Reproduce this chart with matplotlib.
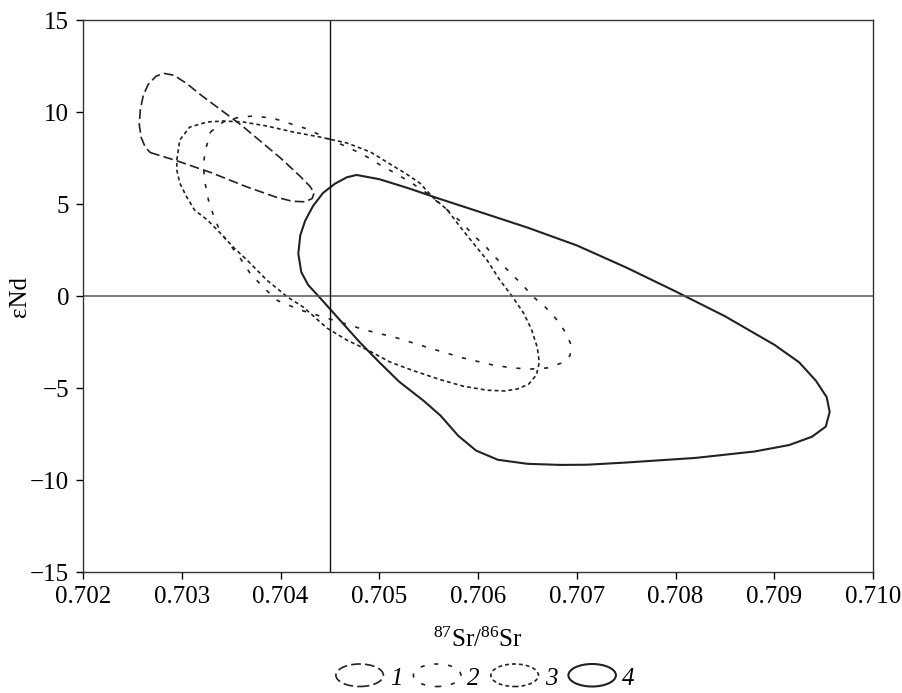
import matplotlib
matplotlib.use('Agg')
from matplotlib import pyplot as plt
import matplotlib.patches as mpatches
from matplotlib.legend_handler import HandlerPatch

plt.rcParams['font.family'] = ['Liberation Serif', 'DejaVu Serif']
plt.rcParams['mathtext.fontset'] = 'custom'
plt.rcParams['mathtext.rm'] = 'Liberation Serif'
plt.rcParams['mathtext.it'] = 'Liberation Serif:italic'
plt.rcParams['lines.scale_dashes'] = False

# field outlines (87Sr/86Sr, eNd)
x1 = [0.70268, 0.70295, 0.70330, 0.70365, 0.70395, 0.70412, 0.70425, 0.70432,
      0.70434, 0.70430, 0.70420, 0.70400, 0.70380, 0.70360, 0.70340, 0.70320,
      0.70305, 0.70292, 0.70282, 0.70274, 0.70266, 0.70261, 0.70258, 0.70257,
      0.70259, 0.70263]
y1 = [7.80, 7.35, 6.70, 5.95, 5.38, 5.15, 5.12, 5.30,
      5.60, 5.95, 6.50, 7.50, 8.40, 9.30, 10.10, 10.90,
      11.55, 12.00, 12.10, 11.95, 11.50, 10.90, 10.10, 9.30,
      8.60, 8.10]

x2 = [0.70329, 0.70342, 0.70358, 0.70372, 0.70392, 0.70408, 0.70427, 0.70440,
      0.70470, 0.70488, 0.70501, 0.70516, 0.70531, 0.70548, 0.70569, 0.70584,
      0.70595, 0.70609, 0.70620, 0.70632, 0.70645, 0.70656, 0.70668, 0.70680,
      0.70689, 0.70695, 0.70693, 0.70684, 0.70670, 0.70653, 0.70635, 0.70615,
      0.70585, 0.70551, 0.70518, 0.70486, 0.70453, 0.70420, 0.70397, 0.70382,
      0.70369, 0.70359, 0.70339, 0.70332, 0.70327, 0.70323, 0.70322, 0.70324]
y2 = [8.91, 9.46, 9.72, 9.78, 9.67, 9.40, 9.08, 8.75,
      8.04, 7.55, 7.12, 6.68, 6.20, 5.60, 4.67, 3.97,
      3.32, 2.61, 1.96, 1.30, 0.60, -0.05, -0.60, -1.30,
      -2.01, -2.75, -3.25, -3.65, -3.91, -3.97, -3.91, -3.75,
      -3.37, -2.83, -2.28, -1.85, -1.30, -0.76, -0.25, 0.50,
      1.25, 2.07, 3.48, 4.40, 5.22, 6.30, 7.20, 7.93]

x3 = [0.70295, 0.70298, 0.70308, 0.70326, 0.70342, 0.70362, 0.70386, 0.70413,
      0.70440, 0.70467, 0.70491, 0.70510, 0.70527, 0.70541, 0.70554, 0.70569,
      0.70582, 0.70595, 0.70609, 0.70622, 0.70635, 0.70646, 0.70654, 0.70660,
      0.70662, 0.70659, 0.70651, 0.70640, 0.70627, 0.70609, 0.70585, 0.70562,
      0.70534, 0.70511, 0.70488, 0.70467, 0.70447, 0.70423, 0.70407, 0.70386,
      0.70366, 0.70352, 0.70339, 0.70326, 0.70313, 0.70305, 0.70298, 0.70295]
y3 = [7.39, 8.48, 9.18, 9.46, 9.51, 9.46, 9.24, 8.91,
      8.64, 8.32, 7.83, 7.20, 6.65, 6.14, 5.38, 4.67,
      3.75, 2.88, 1.96, 0.87, -0.05, -0.92, -1.80, -2.80,
      -3.60, -4.30, -4.80, -5.05, -5.16, -5.12, -4.90, -4.55,
      -4.05, -3.59, -2.93, -2.39, -1.74, -0.60, -0.05, 0.87,
      1.96, 2.66, 3.42, 4.13, 4.67, 5.38, 6.14, 6.85]

x4 = [0.70683, 0.70650, 0.70620, 0.70598, 0.70580, 0.70562, 0.70545, 0.70520,
      0.70500, 0.70480, 0.70460, 0.70440, 0.70428, 0.70421, 0.70418, 0.70420,
      0.70425, 0.70433, 0.70443, 0.70455, 0.70467, 0.70477, 0.70500, 0.70530,
      0.70560, 0.70600, 0.70650, 0.70700, 0.70750, 0.70800, 0.70850, 0.70900,
      0.70925, 0.70942, 0.70953, 0.70956, 0.70952, 0.70938, 0.70915, 0.70880,
      0.70820, 0.70750, 0.70710]
y4 = [-9.18, -9.12, -8.90, -8.40, -7.60, -6.50, -5.70, -4.65,
      -3.60, -2.50, -1.30, -0.10, 0.60, 1.30, 2.30, 3.30,
      4.10, 4.90, 5.60, 6.10, 6.45, 6.58, 6.35, 5.85,
      5.30, 4.60, 3.72, 2.75, 1.55, 0.25, -1.10, -2.65,
      -3.60, -4.60, -5.50, -6.30, -7.10, -7.65, -8.10, -8.45,
      -8.80, -9.05, -9.17]

labels = ['1', '2', '3', '4']
xticks = [0.702, 0.703, 0.704, 0.705, 0.706, 0.707, 0.708, 0.709, 0.710]
yticks = [-15, -10, -5, 0, 5, 10, 15]

col = '#222222'
styles = [(0, (7.0, 3.0)), (0, (3.0, 7.0)), (0, (2.8, 2.2)), '-']
widths = [1.2, 1.2, 1.2, 1.5]


class HandlerEllipse(HandlerPatch):
    def create_artists(self, legend, orig_handle, xdescent, ydescent,
                       width, height, fontsize, trans):
        c = (0.5 * width - 0.5 * xdescent, 0.5 * height - 0.5 * ydescent)
        p = mpatches.Ellipse(xy=c, width=width + xdescent, height=height + ydescent)
        self.update_prop(p, orig_handle, legend)
        p.set_transform(trans)
        return [p]


fig = plt.figure(figsize=(9.02, 6.93), dpi=100)
ax = fig.add_axes([0.092, 0.1746, 0.876, 0.7965])

for xs, ys, ls, lw in zip([x1, x2, x3, x4], [y1, y2, y3, y4], styles, widths):
    ax.plot(xs + xs[:1], ys + ys[:1], color=col, linestyle=ls, lw=lw,
            solid_joinstyle='round')

ax.axhline(0, color='#555555', lw=1.1)
ax.axvline(0.7045, color='#111111', lw=1.0)

ax.set_xlim(0.702, 0.710)
ax.set_ylim(-15, 15)
ax.set_xticks(xticks)
ax.set_xticklabels(['%.3f' % v for v in xticks])
ax.set_yticks(yticks)
ax.set_yticklabels([str(v).replace('-', '\u2212') for v in yticks])
ax.tick_params(direction='out', length=5, width=1, labelsize=18, pad=5,
               top=False, right=False)
for s in ax.spines.values():
    s.set_linewidth(1.0)
    s.set_color('#333333')

ax.set_xlabel(r'$^{87}$Sr/$^{86}$Sr', fontsize=18, labelpad=14)
ax.set_ylabel('\u03b5Nd', fontsize=18, labelpad=-1)

handles = [mpatches.Ellipse((0, 0), 1, 1, fill=False, edgecolor=col,
                            linestyle=ls, lw=lw)
           for ls, lw in zip(styles, widths)]
fig.legend(handles, labels, loc='center', bbox_to_anchor=(0.538, 0.022),
           ncol=4, frameon=False, handlelength=1.9, handleheight=0.9,
           handletextpad=0.25, columnspacing=0.45, borderpad=0,
           prop={'style': 'italic', 'size': 18},
           handler_map={mpatches.Ellipse: HandlerEllipse()})

fig.savefig('out.png', dpi=100)
